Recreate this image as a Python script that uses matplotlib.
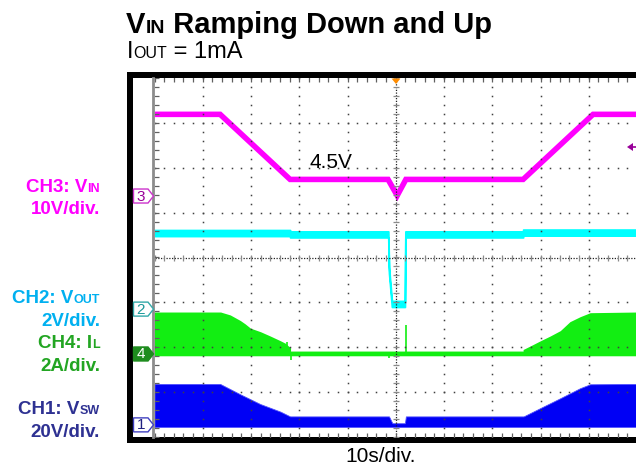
import matplotlib
matplotlib.use('Agg')
import matplotlib.pyplot as plt
from matplotlib.patches import Rectangle, Polygon
from matplotlib.transforms import IdentityTransform
import numpy as np

# ---------------- data read from the scope capture ----------------
# time axis: 10 s/div, 10 divisions -> 0..100 s
# CH3: VIN (V)
vin_t = [0, 13.6, 28.1, 48.4, 50.3, 52.1, 76.4, 90.9, 100]
vin_v = [18.2, 18.2, 3.7, 3.7, 0.1, 3.7, 3.7, 18.2, 18.2]

# CH2: VOUT (V)
vout_t = [0, 28.1, 28.1, 48.45, 48.6, 49.2, 51.9, 52.0, 76.4, 76.4, 100]
vout_v = [3.39, 3.39, 3.33, 3.33, 1.74, 0.23, 0.23, 3.33, 3.33, 3.41, 3.41]

# CH4: IL (A) - burst envelope (peak) and floor
il_t = [0, 13.7, 15.7, 17.8, 18.8, 19.9, 22.0, 24.0, 26.1, 27.1, 28.2, 28.2,
        76.4, 76.4, 77.9, 79.9, 82.0, 84.1, 86.1, 88.2, 90.3, 100]
il_pk = [1.87, 1.87, 1.74, 1.49, 1.34, 1.15, 0.99, 0.80, 0.59, 0.48, 0.27, 0.13,
         0.13, 0.20, 0.36, 0.58, 0.80, 1.04, 1.44, 1.66, 1.84, 1.87]
il_floor = -0.08
il_idle = 0.03
il_spike_t = [27.5, 28.2, 48.7, 52.2]
il_spike_v = [0.53, -0.26, -0.17, 1.29]

# CH1: VSW (V) - switching envelope top and floor
sw_t = [0, 13.6, 17.8, 21.9, 26.1, 28.1, 48.6, 49.3, 51.9, 52.1,
        76.5, 79.9, 84.1, 88.2, 90.3, 100]
sw_top = [18.25, 18.25, 13.6, 9.3, 5.9, 3.78, 3.78, 0.74, 0.74, 3.78,
          3.78, 7.42, 11.88, 16.34, 18.1, 18.25]
sw_floor = -0.9

# channel settings: scale (units/div) and ground position (div from centre)
scale = {'CH1': 20, 'CH2': 2, 'CH3': 10, 'CH4': 2}
ground = {'CH1': -3.73, 'CH2': -1.15, 'CH3': 1.37, 'CH4': -2.15}

# ---------------- layout ----------------
W, H = 636, 468
plt.rcParams['font.family'] = ['Liberation Sans', 'DejaVu Sans']

X0, DIVX = 154.5, 48.25
YT, YB = 78, 437
DIVY = (YB - YT) / 8.0
YC = (YT + YB) / 2.0

fig = plt.figure(figsize=(W / 100, H / 100), dpi=100)
fig.patch.set_facecolor('white')
ID = IdentityTransform()


def P(x, y):
    return (x, H - y)


# scope frame
fig.add_artist(Rectangle(P(127, 443), 520, 371, transform=ID,
                         facecolor='black', edgecolor='none', zorder=-10))
fig.add_artist(Rectangle(P(133, 437), 520, 359, transform=ID,
                         facecolor='white', edgecolor='none', zorder=-9))

rect = [X0 / W, 1 - YB / H, 10 * DIVX / W, (YB - YT) / H]


def chan_axes(ch, z):
    a = fig.add_axes(rect, zorder=z)
    a.set_xlim(0, 100)
    g, s = ground[ch], scale[ch]
    a.set_ylim((-4 - g) * s, (4 - g) * s)
    a.axis('off')
    return a


def px_to_units(ch, px):
    return px / DIVY * scale[ch]


# CH1 VSW
a1 = chan_axes('CH1', 1)
a1.fill_between(sw_t, sw_floor, sw_top, color='#0000F5', lw=0.6, edgecolor='#5050FF')

# CH4 IL
a4 = chan_axes('CH4', 2)
a4.fill_between(il_t, il_floor, il_pk, color='#12EE12', lw=0)
a4.vlines(il_spike_t, il_idle, il_spike_v, color='#12EE12', lw=1.2)

# CH2 VOUT
a2 = chan_axes('CH2', 3)
d2 = px_to_units('CH2', 3.0)
vo = np.array(vout_v)
a2.fill_between(vout_t, vo - d2, vo + d2, color='#00FFFF', lw=1.3, edgecolor='#00FFFF')

# CH3 VIN
a3 = chan_axes('CH3', 4)
a3.plot(vin_t, vin_v, color='#FF00FF', lw=4.0, solid_joinstyle='miter')

# ---------------- graticule ----------------
ax = fig.add_axes(rect, zorder=10)
ax.set_xlim(0, 100)
ax.set_ylim(-4, 4)
ax.axis('off')

dot = dict(ls='none', marker='s', ms=1.1, mew=0, color='#404040')
yd = np.arange(-4, 4.001, 0.2)
xd = np.arange(0, 100.001, 2)
for xv in range(10, 100, 10):
    if xv == 50:
        continue
    ax.plot(np.full_like(yd, xv), yd, **dot)
for yv in [-3, -2, -1, 1, 2, 3]:
    ax.plot(xd, np.full_like(xd, yv), **dot)

# centre cross
ax.plot([0, 100], [0, 0], ls=(0, (1, 1.2)), lw=0.9, color='#222222')
ax.plot([50, 50], [-4, 4], ls=(0, (1, 1.2)), lw=0.9, color='#222222')
ax.plot(xd, np.zeros_like(xd), ls='none', marker='|', ms=5, mew=0.9, color='#8a8a8a')
ax.plot(np.full_like(yd, 50), yd, ls='none', marker='_', ms=5, mew=0.9, color='#8a8a8a')

# edge ticks
for yv in (4, -4):
    ax.plot(xd, np.full_like(xd, yv), ls='none', marker='|', ms=6, mew=0.9, color='#606060')
ax.plot(np.zeros_like(yd), yd, ls='none', marker='_', ms=6, mew=0.9, color='#606060')
ax.axvline(-0.25, color='#8c8c8c', lw=2.0, clip_on=False)

# trigger position marker (top) and trigger level arrow (right)
fig.add_artist(Polygon([P(391.5, 78.5), P(400.5, 78.5), P(396, 84)], closed=True,
                       transform=ID, facecolor='#FF8C00', edgecolor='none', zorder=20))
fig.add_artist(Polygon([P(627, 147), P(633, 143), P(633, 151)], closed=True,
                       transform=ID, facecolor='#990099', edgecolor='none', zorder=20))
fig.add_artist(plt.Line2D([633, 640], [H - 147, H - 147], transform=ID,
                          color='#990099', lw=1.2, zorder=20))


# channel ground markers
def ch_marker(ch, label, edge, textc, fill):
    yc = YC - ground[ch] * DIVY
    x0, x1, tip, h = 133.5, 148.0, 153.5, 7.0
    pts = [P(x0, yc - h), P(x1, yc - h), P(tip, yc), P(x1, yc + h), P(x0, yc + h)]
    fig.add_artist(Polygon(pts, closed=True, transform=ID, facecolor=fill,
                           edgecolor=edge, lw=1.0, zorder=20))
    fig.text(x0 + 7.2, H - yc - 0.5, label, transform=ID, fontsize=11,
             color=textc, ha='center', va='center', zorder=21)


ch_marker('CH3', '3', '#CC33CC', '#990099', 'white')
ch_marker('CH2', '2', '#33AAAA', '#1C9A9A', 'white')
ch_marker('CH4', '4', '#1E8C1E', 'white', '#1E8C1E')
ch_marker('CH1', '1', '#4040C0', '#202080', 'white')

# ---------------- text ----------------
renderer = fig.canvas.get_renderer()


def runs(x, y, parts, color='black', ha='left'):
    objs = []
    for s, fs, wt in parts:
        t = fig.text(0, 0, s, transform=ID, fontsize=fs, fontweight=wt,
                     color=color, ha='left', va='baseline')
        objs.append(t)
    widths = [t.get_window_extent(renderer).width for t in objs]
    total = sum(widths)
    cx = x - total if ha == 'right' else (x - total / 2 if ha == 'center' else x)
    for t, w in zip(objs, widths):
        t.set_position((cx, H - y))
        cx += w


B, N = 'bold', 'normal'
runs(126, 33, [('V', 21, B), ('IN', 14, B), (' Ramping Down and Up', 21, B)])
runs(127, 58, [('I', 17, N), ('OUT', 11.5, N), (' = 1mA', 17, N)])

LS, SS = 13.5, 9.0
XR = 100
runs(XR, 192, [('CH3: V', LS, B), ('IN', SS, B)], '#FF00FF', 'right')
runs(XR, 214, [('10V/div.', LS, B)], '#FF00FF', 'right')
runs(XR, 303, [('CH2: V', LS, B), ('OUT', SS, B)], '#00B0F0', 'right')
runs(XR, 326, [('2V/div.', LS, B)], '#00B0F0', 'right')
runs(XR, 348, [('CH4: I', LS, B), ('L', SS, B)], '#22A522', 'right')
runs(XR, 371, [('2A/div.', LS, B)], '#22A522', 'right')
runs(XR, 414, [('CH1: V', LS, B), ('SW', SS, B)], '#2E3192', 'right')
runs(XR, 437, [('20V/div.', LS, B)], '#2E3192', 'right')

runs(309, 168, [('4.5V', 15, N)])
runs(380.5, 462, [('10s/div.', 15, N)], ha='center')

fig.savefig('out.png', dpi=100, facecolor='white')
